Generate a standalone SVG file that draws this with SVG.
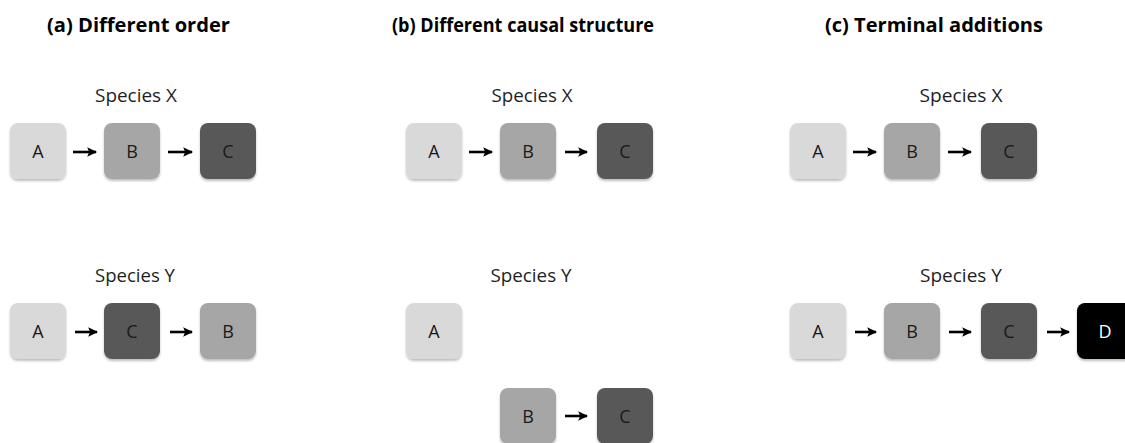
<svg xmlns="http://www.w3.org/2000/svg" width="1125" height="443" viewBox="0 0 1125 443">
  <style>
    .title { font-family: "Open Sans", "Liberation Sans", sans-serif; font-weight: bold; font-size: 20px; fill: #000; }
    .species { font-family: "Open Sans", "Liberation Sans", sans-serif; font-size: 19px; fill: #1e1e1e; text-anchor: middle; }
    .lbl { font-family: "Open Sans", "Liberation Sans", sans-serif; font-size: 18px; fill: #1a1a1a; text-anchor: middle; dominant-baseline: central; }
    .lbl.inv { fill: #fff; }
    .a { fill: #d9d9d9; }
    .b { fill: #a6a6a6; }
    .c { fill: #595959; }
    .d { fill: #000; }
    .box { filter: url(#shadow); }
    .arrow { stroke: #000; stroke-width: 2.6; fill: none; marker-end: url(#head); }
  </style>
  <defs>
    <filter id="shadow" x="-20%" y="-20%" width="140%" height="150%">
      <feDropShadow dx="0" dy="2" stdDeviation="1.2" flood-color="#000" flood-opacity="0.25"/>
    </filter>
    <!-- pointed arrowhead with a slight notch -->
    <marker id="head" markerWidth="4" markerHeight="4" refX="3.4" refY="2" orient="auto" markerUnits="strokeWidth">
      <path d="M0,0.2 L3.8,2 L0,3.8 L0.8,2 Z" fill="#000"/>
    </marker>
  </defs>

  <rect width="1125" height="443" fill="#fff"/>

  <!-- panel headings -->
  <text class="title" x="47" y="32" textLength="183" lengthAdjust="spacingAndGlyphs">(a) Different order</text>
  <text class="title" x="392" y="32" textLength="262" lengthAdjust="spacingAndGlyphs">(b) Different causal structure</text>
  <text class="title" x="825" y="32" textLength="218" lengthAdjust="spacingAndGlyphs">(c) Terminal additions</text>

  <!-- species labels -->
  <text class="species" x="136" y="102" textLength="82" lengthAdjust="spacingAndGlyphs">Species X</text>
  <text class="species" x="135" y="282" textLength="80" lengthAdjust="spacingAndGlyphs">Species Y</text>
  <text class="species" x="532" y="102" textLength="81" lengthAdjust="spacingAndGlyphs">Species X</text>
  <text class="species" x="531" y="282" textLength="81" lengthAdjust="spacingAndGlyphs">Species Y</text>
  <text class="species" x="961" y="102" textLength="83" lengthAdjust="spacingAndGlyphs">Species X</text>
  <text class="species" x="961" y="282" textLength="82" lengthAdjust="spacingAndGlyphs">Species Y</text>

  <!-- (a) species X -->
  <g id="aX-A"><rect class="box a" x="10" y="123" width="56" height="56" rx="8"/><text class="lbl" x="38" y="151">A</text></g>
  <g id="aX-B"><rect class="box b" x="104" y="123" width="56" height="56" rx="8"/><text class="lbl" x="132" y="151">B</text></g>
  <g id="aX-C"><rect class="box c" x="200" y="123" width="56" height="56" rx="8"/><text class="lbl" x="228" y="151">C</text></g>

  <!-- (a) species Y -->
  <g id="aY-A"><rect class="box a" x="10" y="303" width="56" height="56" rx="8"/><text class="lbl" x="38" y="331">A</text></g>
  <g id="aY-C"><rect class="box c" x="104" y="303" width="56" height="56" rx="8"/><text class="lbl" x="132" y="331">C</text></g>
  <g id="aY-B"><rect class="box b" x="200" y="303" width="56" height="56" rx="8"/><text class="lbl" x="228" y="331">B</text></g>

  <!-- (b) species X -->
  <g id="bX-A"><rect class="box a" x="406" y="123" width="56" height="56" rx="8"/><text class="lbl" x="434" y="151">A</text></g>
  <g id="bX-B"><rect class="box b" x="500" y="123" width="56" height="56" rx="8"/><text class="lbl" x="528" y="151">B</text></g>
  <g id="bX-C"><rect class="box c" x="597" y="123" width="56" height="56" rx="8"/><text class="lbl" x="625" y="151">C</text></g>

  <!-- (b) species Y -->
  <g id="bY-A"><rect class="box a" x="406" y="303" width="56" height="56" rx="8"/><text class="lbl" x="434" y="331">A</text></g>
  <g id="bY-B"><rect class="box b" x="500" y="388" width="56" height="56" rx="8"/><text class="lbl" x="528" y="416">B</text></g>
  <g id="bY-C"><rect class="box c" x="597" y="388" width="56" height="56" rx="8"/><text class="lbl" x="625" y="416">C</text></g>

  <!-- (c) species X -->
  <g id="cX-A"><rect class="box a" x="790" y="123" width="56" height="56" rx="8"/><text class="lbl" x="818" y="151">A</text></g>
  <g id="cX-B"><rect class="box b" x="884" y="123" width="56" height="56" rx="8"/><text class="lbl" x="912" y="151">B</text></g>
  <g id="cX-C"><rect class="box c" x="981" y="123" width="56" height="56" rx="8"/><text class="lbl" x="1009" y="151">C</text></g>

  <!-- (c) species Y -->
  <g id="cY-A"><rect class="box a" x="790" y="303" width="56" height="56" rx="8"/><text class="lbl" x="818" y="331">A</text></g>
  <g id="cY-B"><rect class="box b" x="884" y="303" width="56" height="56" rx="8"/><text class="lbl" x="912" y="331">B</text></g>
  <g id="cY-C"><rect class="box c" x="981" y="303" width="56" height="56" rx="8"/><text class="lbl" x="1009" y="331">C</text></g>
  <g id="cY-D"><rect class="box d" x="1077" y="303" width="56" height="56" rx="8"/><text class="lbl inv" x="1105" y="331">D</text></g>

  <!-- arrows -->
  <g id="connectors">
    <line class="arrow" x1="73" y1="152" x2="96" y2="152"/>
    <line class="arrow" x1="168" y1="152" x2="192" y2="152"/>
    <line class="arrow" x1="75" y1="332" x2="97" y2="332"/>
    <line class="arrow" x1="170" y1="332" x2="192" y2="332"/>
    <line class="arrow" x1="469" y1="152" x2="492" y2="152"/>
    <line class="arrow" x1="565" y1="152" x2="587" y2="152"/>
    <line class="arrow" x1="565" y1="416" x2="587" y2="416"/>
    <line class="arrow" x1="853" y1="152" x2="876" y2="152"/>
    <line class="arrow" x1="948" y1="152" x2="971" y2="152"/>
    <line class="arrow" x1="855" y1="332" x2="876" y2="332"/>
    <line class="arrow" x1="949" y1="332" x2="971" y2="332"/>
    <line class="arrow" x1="1047" y1="332" x2="1069" y2="332"/>
  </g>
</svg>
